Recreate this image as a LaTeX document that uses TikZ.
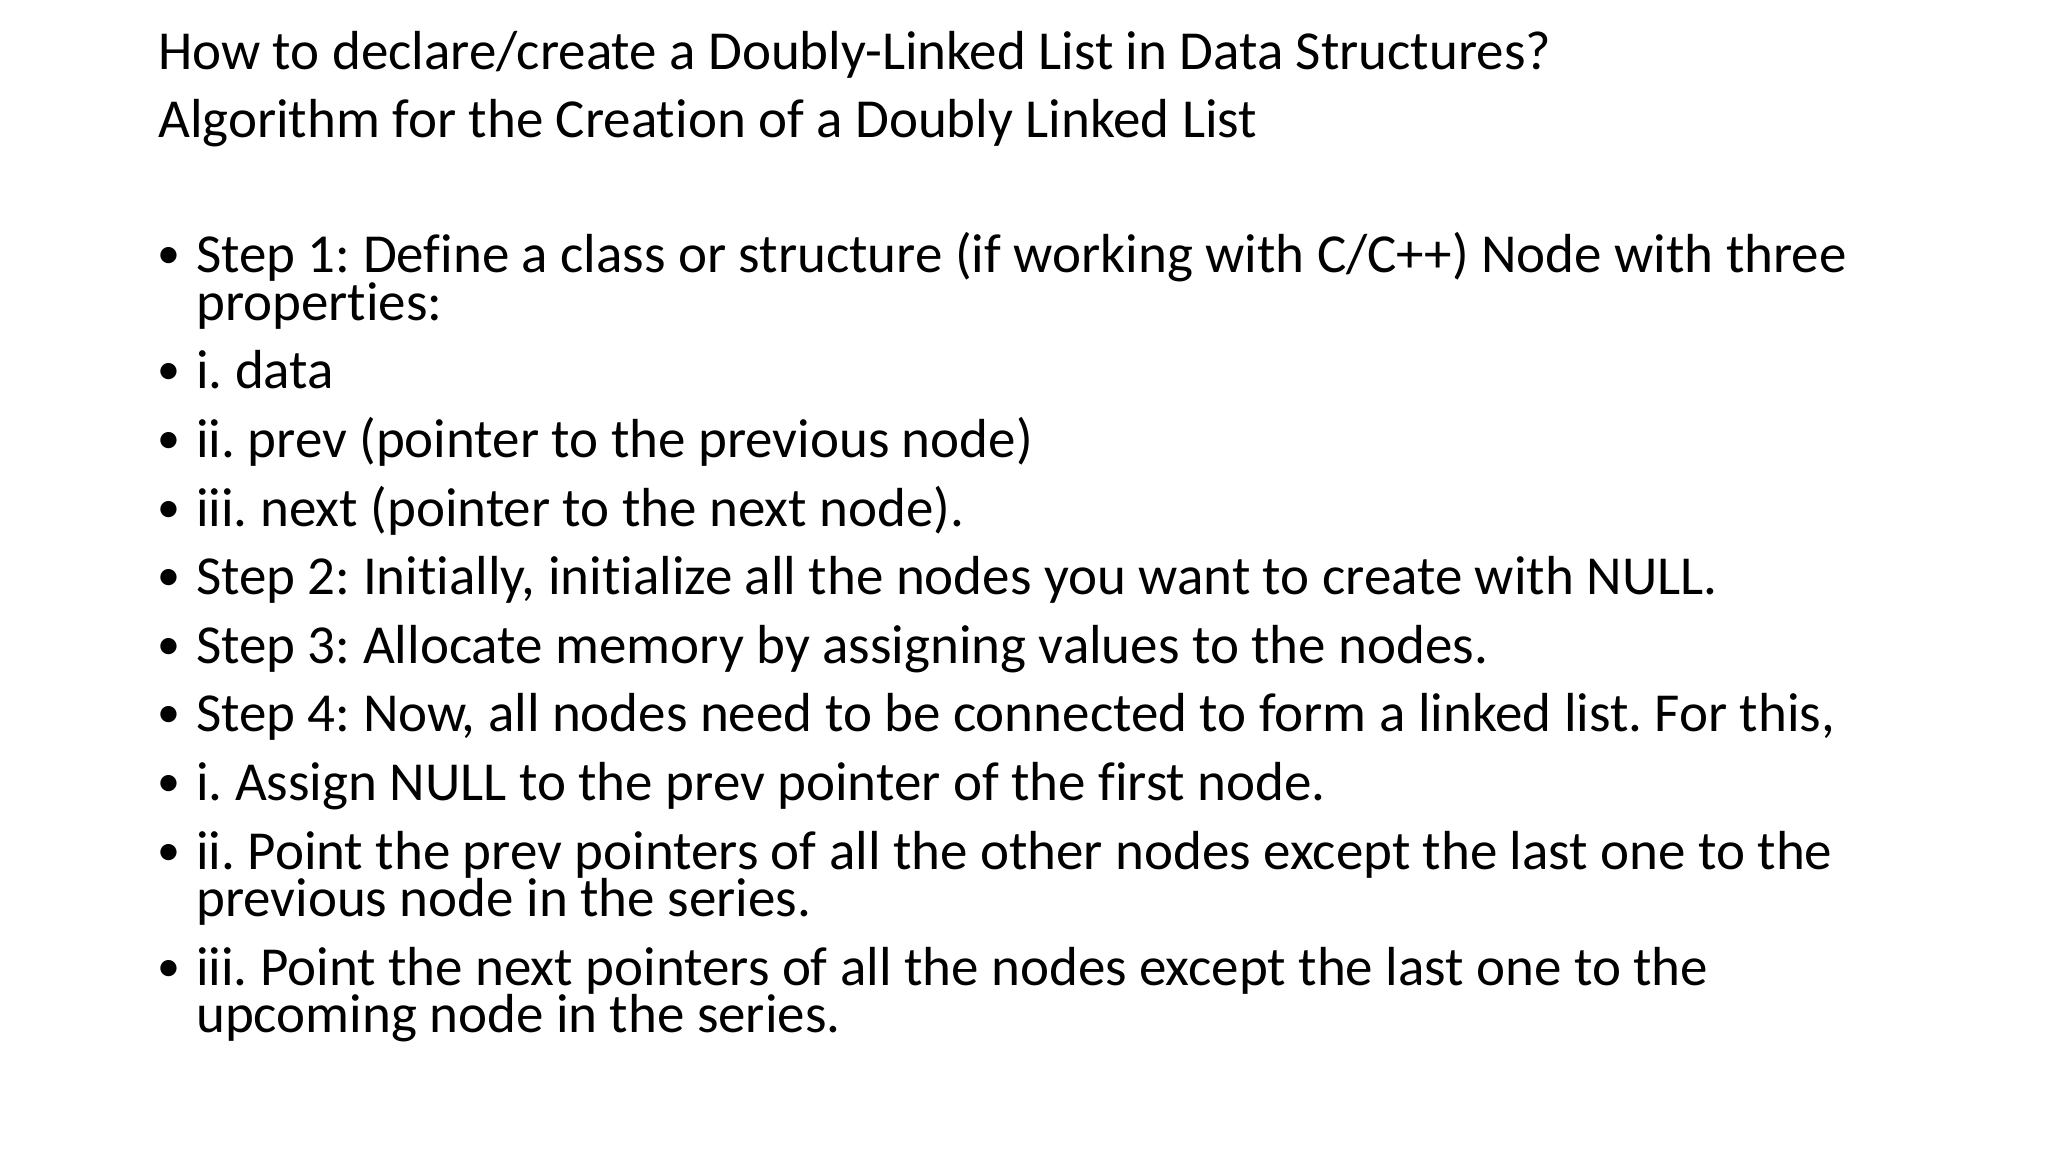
\documentclass[tikz,border=0pt]{standalone}
\usepackage{fontspec}
\setmainfont[RawFeature=-liga]{Carlito}
\frenchspacing
\begin{document}
\begin{tikzpicture}[x=1pt,y=-1pt,
  txt/.style={anchor=base west,inner sep=0pt,font=\fontsize{55}{60}\selectfont},
  bul/.style={anchor=base west,inner sep=0pt,font=\fontsize{46}{50}\selectfont}]
\useasboundingbox (0,0) rectangle (2048,1152);
\node[txt] (t1) at (158,69) {How to declare/create a Doubly-Linked List in Data Structures?};
\node[txt] (t2) at (158,137) {Algorithm for the Creation of a Doubly Linked List};
\foreach \n/\y/\s in {
 a/272/{Step 1: Define a class or structure (if working with C/C++) Node with three},
 b/388/{i. data},
 c/457/{ii. prev (pointer to the previous node)},
 d/526/{iii. next (pointer to the next node).},
 e/594/{Step 2: Initially, initialize all the nodes you want to create with NULL.},
 f/663/{Step 3: Allocate memory by assigning values to the nodes.},
 g/731/{Step 4: Now, all nodes need to be connected to form a linked list. For this,},
 h/800/{i. Assign NULL to the prev pointer of the first node.},
 i/869/{ii. Point the prev pointers of all the other nodes except the last one to the},
 j/985/{iii. Point the next pointers of all the nodes except the last one to the}}
{
 \node[bul] (b\n) at (157,\y-4) {•};
 \node[txt] (l\n) at (196,\y) {\s};
}
\node[txt] (a2) at (196,320) {properties:};
\node[txt] (i2) at (196,916) {previous node in the series.};
\node[txt] (j2) at (196,1032) {upcoming node in the series.};
\end{tikzpicture}
\end{document}
